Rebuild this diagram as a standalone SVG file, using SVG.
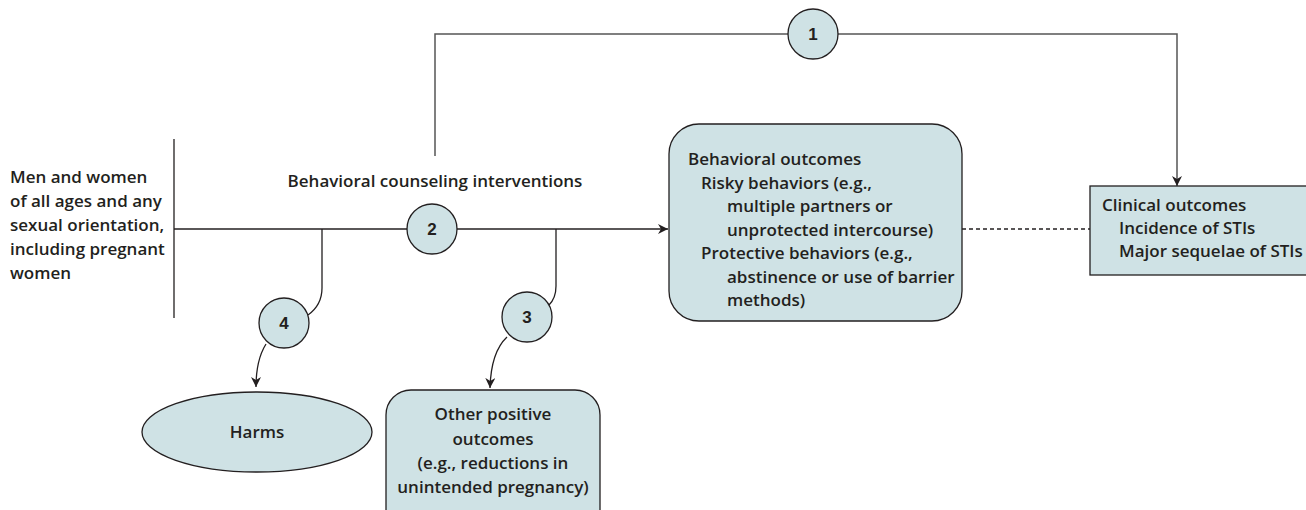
<svg xmlns="http://www.w3.org/2000/svg" width="1306" height="510" viewBox="0 0 1306 510">
<style>
text{font-family:"Open Sans","Liberation Sans",sans-serif;font-weight:600;font-size:17px;fill:#231f20}
.node{fill:#cfe2e5;stroke:#231f20;stroke-width:1.3}
.ln{fill:none;stroke:#231f20;stroke-width:1.3}
.gl{fill:none;stroke:#555;stroke-width:1.5}
.num{text-anchor:middle;font-weight:700;font-family:"Liberation Sans",Arial,sans-serif;font-size:17px}
.c{text-anchor:middle}
</style>
<defs>
<marker id="ah" viewBox="0 0 10 10" refX="10" refY="5" markerWidth="10" markerHeight="10" markerUnits="userSpaceOnUse" orient="auto">
<path d="M0,0 L10,5 L0,10 L3,5 Z" fill="#231f20"/>
</marker>
</defs>
<g id="connectors">
<line class="ln" x1="174" y1="139" x2="174" y2="318"/>
<line class="ln" x1="174" y1="229" x2="668" y2="229" marker-end="url(#ah)"/>
<path class="gl" d="M435,156 V34 H1177 V186" marker-end="url(#ah)"/>
<path class="ln" d="M322,229 V288 Q322,305 308,315"/>
<path class="ln" d="M266,344 Q256,360 256,387" marker-end="url(#ah)"/>
<path class="ln" d="M556,229 V286 Q556,298 549,305"/>
<path class="ln" d="M507,337 Q491,352 490,388" marker-end="url(#ah)"/>
<line class="ln" x1="962" y1="229" x2="1090" y2="229" stroke-dasharray="4,3"/>
</g>
<g id="population">
<text x="10" y="183">Men and women</text>
<text x="10" y="207">of all ages and any</text>
<text x="10" y="231">sexual orientation,</text>
<text x="10" y="255">including pregnant</text>
<text x="10" y="279">women</text>
</g>
<g id="intervention-label">
<text x="435" y="187" class="c">Behavioral counseling interventions</text>
</g>
<g id="kq1"><circle class="node" cx="813" cy="34" r="25"/><text class="num" x="813" y="40">1</text></g>
<g id="kq2"><circle class="node" cx="432" cy="229" r="25"/><text class="num" x="432" y="235">2</text></g>
<g id="kq3"><circle class="node" cx="527" cy="317" r="25"/><text class="num" x="527" y="323">3</text></g>
<g id="kq4"><circle class="node" cx="284" cy="323" r="25"/><text class="num" x="284" y="329">4</text></g>
<g id="behavioral-outcomes">
<rect class="node" x="669" y="124" width="293" height="197" rx="30"/>
<text x="688" y="165">Behavioral outcomes</text>
<text x="701" y="189">Risky behaviors (e.g.,</text>
<text x="727" y="212">multiple partners or</text>
<text x="727" y="236">unprotected intercourse)</text>
<text x="701" y="259">Protective behaviors (e.g.,</text>
<text x="727" y="283">abstinence or use of barrier</text>
<text x="727" y="306">methods)</text>
</g>
<g id="clinical-outcomes">
<rect class="node" x="1090" y="186" width="222" height="89"/>
<text x="1102" y="211">Clinical outcomes</text>
<text x="1119" y="234">Incidence of STIs</text>
<text x="1119" y="257">Major sequelae of STIs</text>
</g>
<g id="harms">
<ellipse class="node" cx="257" cy="432" rx="115" ry="40"/>
<text x="257" y="438" class="c">Harms</text>
</g>
<g id="other-positive-outcomes">
<rect class="node" x="386" y="390" width="214" height="150" rx="25"/>
<text x="493" y="420" class="c">Other positive</text>
<text x="493" y="445" class="c">outcomes</text>
<text x="493" y="469" class="c">(e.g., reductions in</text>
<text x="493" y="493" class="c">unintended pregnancy)</text>
</g>
</svg>
